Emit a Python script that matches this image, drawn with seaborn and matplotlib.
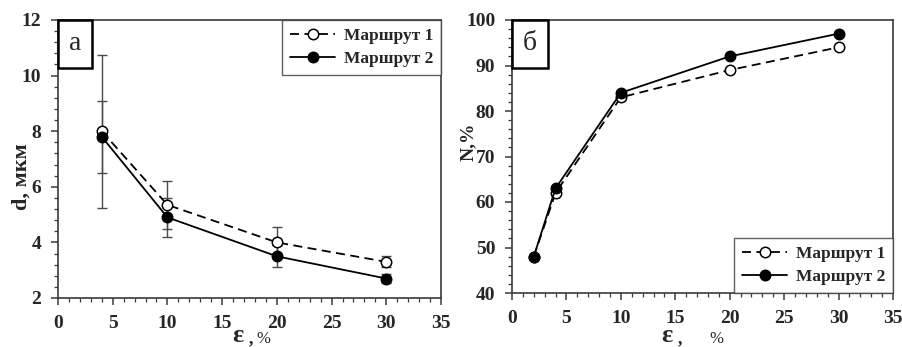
import matplotlib
matplotlib.use("Agg")
import matplotlib.pyplot as plt
import seaborn as sns
from matplotlib.ticker import MultipleLocator
from matplotlib.patches import Rectangle

# Grain size d (um) vs strain, with scatter
strain_d = [4, 10, 20, 30]
d_route1 = [8.0, 5.35, 4.0, 3.3]
d_route1_err = [2.75, 0.87, 0.55, 0.2]
d_route2 = [7.8, 4.9, 3.5, 2.7]
d_route2_err = [1.3, 0.7, 0.4, 0.15]

# Fraction N (%) vs strain
strain_n = [2, 4, 10, 20, 30]
n_route1 = [48, 62, 83, 89, 94]
n_route2 = [48, 63, 84, 92, 97]

route_labels = ["Маршрут 1", "Маршрут 2"]
panel_labels = ["а", "б"]
x_ticks = [0, 5, 10, 15, 20, 25, 30, 35]

sns.set_style("ticks")
plt.rcParams["font.family"] = ["Liberation Serif", "DejaVu Serif"]

W, H = 903, 347
fig = plt.figure(figsize=(W / 100, H / 100), dpi=100)


def px_axes(l, t, r, b):
    return fig.add_axes([l / W, 1 - b / H, (r - l) / W, (b - t) / H])


def fig_xy(x, y):
    return x / W, 1 - y / H


FRAME = "#3a3a3a"
tick_font = dict(family="Liberation Serif", weight="bold", size=14)
leg_font = dict(family="Liberation Serif", weight="bold", size=12.5)


def style_axes(ax, ymin, ymax, ymajor, yminor):
    ax.set_xlim(0, 35)
    ax.set_ylim(ymin, ymax)
    ax.set_xticks(x_ticks)
    ax.xaxis.set_minor_locator(MultipleLocator(1))
    ax.yaxis.set_major_locator(MultipleLocator(ymajor))
    ax.yaxis.set_minor_locator(MultipleLocator(yminor))
    for s in ax.spines.values():
        s.set_visible(True)
        s.set_color(FRAME)
        s.set_linewidth(1.2)
    ax.tick_params(which="major", direction="out", length=5, width=1.1,
                   color=FRAME, pad=7)
    ax.tick_params(which="minor", direction="out", length=3, width=0.9,
                   color=FRAME)
    for lab in ax.get_xticklabels() + ax.get_yticklabels():
        lab.set_fontfamily(tick_font["family"])
        lab.set_fontweight(tick_font["weight"])
        lab.set_fontsize(tick_font["size"])
    ax.set_xlabel("")
    ax.set_ylabel("")


def panel_tag(ax, text, wpx, hpx):
    bb = ax.get_position()
    w = wpx / (bb.width * W)
    h = hpx / (bb.height * H)
    ax.add_patch(Rectangle((0, 1 - h), w, h, transform=ax.transAxes,
                           facecolor="white", edgecolor="black",
                           linewidth=1.8, zorder=5, clip_on=False))
    ax.text(w / 2, 1 - h / 2, text, transform=ax.transAxes, ha="center",
            va="center", fontsize=20, family="Liberation Serif", zorder=6)


def draw_routes(ax, x, y1, y2):
    sns.lineplot(x=x, y=y1, ax=ax, color="black", linestyle=(0, (5, 3)),
                 linewidth=1.3, marker="o", markersize=7.5,
                 markerfacecolor="white", markeredgecolor="black",
                 markeredgewidth=1.1, label=route_labels[0], zorder=4)
    sns.lineplot(x=x, y=y2, ax=ax, color="black", linestyle="-",
                 linewidth=1.3, marker="o", markersize=7.5,
                 markerfacecolor="black", markeredgecolor="black",
                 markeredgewidth=1.1, label=route_labels[1], zorder=4)


def legend(ax, loc):
    leg = ax.legend(loc=loc, frameon=True, fancybox=False, borderaxespad=0,
                    prop=leg_font, handlelength=2.6, handletextpad=0.5,
                    borderpad=0.45, labelspacing=0.4)
    leg.get_frame().set_edgecolor(FRAME)
    leg.get_frame().set_linewidth(1.0)
    leg.set_zorder(6)
    return leg


# ---- left panel: grain size ----
ax1 = px_axes(58, 20, 441, 298)
ax1.errorbar(strain_d, d_route1, yerr=d_route1_err, fmt="none",
             ecolor="#4a4a4a", elinewidth=1.0, capsize=3.5, capthick=1.0,
             zorder=2)
ax1.errorbar(strain_d, d_route2, yerr=d_route2_err, fmt="none",
             ecolor="#4a4a4a", elinewidth=1.0, capsize=3.5, capthick=1.0,
             zorder=2)
draw_routes(ax1, strain_d, d_route1, d_route2)
style_axes(ax1, 2, 12, 2, 0.4)
legend(ax1, "upper right")
panel_tag(ax1, panel_labels[0], 34, 48)

# ---- right panel: fraction ----
ax2 = px_axes(512, 20, 893, 293)
draw_routes(ax2, strain_n, n_route1, n_route2)
style_axes(ax2, 40, 100, 10, 2)
legend(ax2, "lower right")
panel_tag(ax2, panel_labels[1], 36, 48)

# ---- axis titles ----
fig.text(*fig_xy(22, 177), "d, мкм", rotation=90, ha="center", va="center",
         fontsize=16, fontweight="bold", family="Liberation Serif")
fig.text(*fig_xy(468, 142), "N,%", rotation=90, ha="center", va="center",
         fontsize=14, fontweight="bold", family="Liberation Serif")

for ex, px in [(238, 263), (667, 716)]:
    fig.text(*fig_xy(ex, 347), "ε", ha="center", va="bottom",
             fontsize=19, fontweight="bold", family="Liberation Serif")
    fig.text(*fig_xy(ex + 11, 347), ",", ha="left", va="bottom",
             fontsize=13, fontweight="bold", family="Liberation Serif")
    fig.text(*fig_xy(px, 347), "%", ha="center", va="bottom",
             fontsize=12, family="Liberation Serif")

fig.savefig("out.png", dpi=100)
